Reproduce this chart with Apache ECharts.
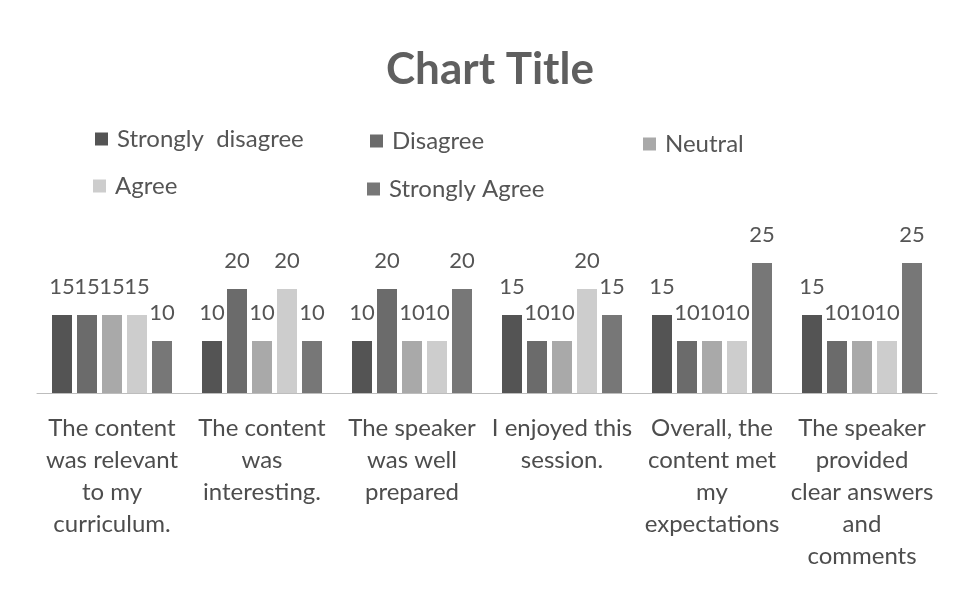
<!DOCTYPE html>
<html>
<head>
<meta charset="utf-8">
<script src="https://cdn.jsdelivr.net/npm/echarts@6/dist/echarts.min.js"></script>
<style>
html,body{margin:0;padding:0;background:#fff;}
#chart{width:956px;height:593px;}
</style>
</head>
<body>
<div id="chart"></div>
<script>
const categories = [
  "The content\nwas relevant\nto my\ncurriculum.",
  "The content\nwas\ninteresting.",
  "The speaker\nwas well\nprepared",
  "I enjoyed this\nsession.",
  "Overall, the\ncontent met\nmy\nexpectations",
  "The speaker\nprovided\nclear answers\nand\ncomments"
];
const seriesNames = ["Strongly  disagree", "Disagree", "Neutral", "Agree", "Strongly Agree"];
const stronglyDisagree = [15, 10, 10, 15, 15, 15];
const disagree = [15, 20, 20, 10, 10, 10];
const neutral = [15, 10, 10, 10, 10, 10];
const agree = [15, 20, 10, 20, 10, 10];
const stronglyAgree = [10, 10, 20, 15, 25, 25];
const values = [stronglyDisagree, disagree, neutral, agree, stronglyAgree];
const colors = ["#545454", "#6b6b6b", "#a9a9a9", "#cdcdcd", "#777777"];

const FONT = "Lato";
const chart = echarts.init(document.getElementById('chart'));

const legendPos = [
  {left: 90, top: 122},
  {left: 365, top: 124},
  {left: 638, top: 127},
  {left: 88, top: 169},
  {left: 362, top: 172}
];

const option = {
  animation: false,
  backgroundColor: '#ffffff',
  title: {
    text: 'Chart Title',
    left: 381,
    top: 43,
    textStyle: {fontFamily: FONT, fontSize: 44, fontWeight: 'bold', color: '#5f5f5f'}
  },
  legend: seriesNames.map((n, i) => ({
    data: [n],
    left: legendPos[i].left,
    top: legendPos[i].top,
    itemWidth: 13,
    itemHeight: 13,
    icon: 'rect',
    textStyle: {fontFamily: FONT, fontSize: 24, color: '#555555', padding: [0, 0, 0, 4]}
  })),
  grid: {left: 37, right: 19, top: 237, bottom: 200},
  xAxis: {
    type: 'category',
    data: categories,
    axisLine: {lineStyle: {color: '#bdbdbd', width: 1}},
    axisTick: {show: false},
    axisLabel: {
      interval: 0,
      margin: 19,
      fontFamily: FONT,
      fontSize: 24,
      lineHeight: 32,
      color: '#4d4d4d',
      align: 'center'
    }
  },
  yAxis: {
    type: 'value',
    min: 0,
    max: 30,
    show: false,
    splitLine: {show: false}
  },
  series: seriesNames.map((n, i) => ({
    name: n,
    type: 'bar',
    data: values[i],
    barWidth: 20,
    barGap: '25%',
    itemStyle: {color: colors[i]},
    label: {
      show: true,
      position: 'top',
      distance: 17,
      fontFamily: FONT,
      fontSize: 22,
      color: '#555555'
    }
  }))
};
chart.setOption(option);
</script>
</body>
</html>
